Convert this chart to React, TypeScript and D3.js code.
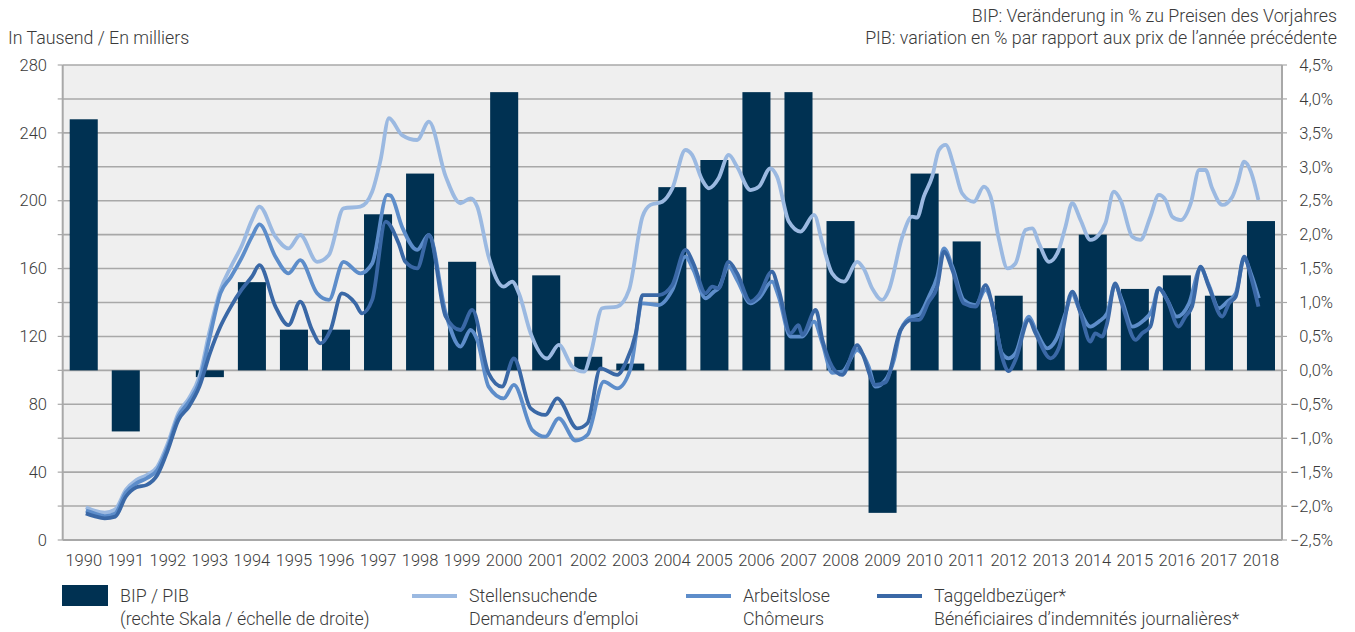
import React from "react";
import * as d3 from "d3";

// GDP change in % (right axis)
const years = d3.range(1990, 2019);
const gdp = [
  3.7, -0.9, 0.0, -0.1, 1.3, 0.6, 0.6, 2.3, 2.9, 1.6, 4.1, 1.4, 0.2, 0.1, 2.7,
  3.1, 4.1, 4.1, 2.2, -2.1, 2.9, 1.9, 1.1, 1.8, 2.0, 1.2, 1.4, 1.1, 2.2,
];

// [year, thousands]
const stellensuchende: [number, number][] = [
  [1990.05, 19.3], [1990.25, 17.3], [1990.5, 16.1], [1990.75, 18.1], [1991.0, 29.5], [1991.25, 35.4],
  [1991.5, 38.3], [1991.75, 43.2], [1992.0, 57], [1992.25, 74.7], [1992.5, 83.5], [1992.75, 96.3],
  [1993.0, 123.8], [1993.25, 147.4], [1993.5, 161], [1993.75, 173], [1994.0, 188.6], [1994.18, 196.5],
  [1994.56, 178.8], [1994.87, 171.9], [1995.15, 179.8], [1995.55, 164], [1995.83, 168], [1996.18, 195.5],
  [1996.58, 196.5], [1996.86, 205.3], [1997.06, 224], [1997.26, 248.6], [1997.57, 238.7], [1997.93, 235.8],
  [1998.21, 246.6], [1998.61, 214.2], [1998.96, 198.5], [1999.2, 201.4], [1999.36, 196.5], [1999.63, 167],
  [1999.99, 149.3], [2000.19, 152.3], [2000.35, 145.4], [2000.63, 121.8], [2001.02, 107], [2001.3, 115],
  [2001.62, 102.2], [2001.9, 99.2], [2002.06, 110], [2002.33, 136.6], [2002.69, 137.6], [2002.97, 147.4],
  [2003.29, 190.6], [2003.48, 197.5], [2003.76, 199.4], [2004.0, 207.3], [2004.31, 229.9], [2004.47, 227],
  [2004.71, 212.2], [2004.87, 207.3], [2005.1, 213.2], [2005.34, 227], [2005.54, 220], [2005.86, 206.3],
  [2006.06, 208.3], [2006.33, 219.1], [2006.49, 214.2], [2006.77, 187.7], [2007.05, 181.8], [2007.37, 191.6],
  [2007.57, 174.9], [2007.8, 157.2], [2008.08, 152.3], [2008.4, 164], [2008.55, 160], [2008.76, 148],
  [2008.99, 141.5], [2009.15, 147.4], [2009.47, 178.8], [2009.7, 190.6], [2009.82, 190], [2009.98, 202.4],
  [2010.18, 214.2], [2010.34, 229.9], [2010.5, 232.9], [2010.7, 220.1], [2010.89, 204.4], [2011.17, 199.4],
  [2011.41, 208.3], [2011.57, 202.4], [2011.77, 176.9], [2011.97, 160.1], [2012.16, 163], [2012.4, 182.7],
  [2012.56, 183.7], [2012.72, 174.9], [2012.96, 164], [2013.19, 171], [2013.35, 184.7], [2013.51, 198.5],
  [2013.71, 188.6], [2013.94, 176.9], [2014.14, 179.8], [2014.3, 186.7], [2014.5, 205.3], [2014.66, 200.4],
  [2014.94, 178.8], [2015.13, 176.9], [2015.37, 190.6], [2015.57, 203.4], [2015.73, 200.4], [2015.89, 190.6],
  [2016.09, 188.6], [2016.33, 198.5], [2016.53, 218.1], [2016.68, 218.1], [2016.84, 207.3], [2017.08, 197.5],
  [2017.32, 202.4], [2017.44, 210.3], [2017.6, 223], [2017.76, 217.1], [2017.94, 200.4],
];

const arbeitslose: [number, number][] = [
  [1990.05, 17.3], [1990.25, 15.7], [1990.5, 14.1], [1990.75, 15.7], [1991.0, 27.9], [1991.25, 33.4],
  [1991.5, 36.4], [1991.75, 41.3], [1992.0, 55], [1992.25, 72.7], [1992.5, 81.5], [1992.75, 93.3],
  [1993.0, 119.9], [1993.25, 145.4], [1993.5, 155], [1993.75, 166], [1994.0, 178.8], [1994.18, 186],
  [1994.56, 167], [1994.87, 157.2], [1995.15, 165], [1995.55, 145.4], [1995.83, 141.5], [1996.18, 164],
  [1996.58, 157.2], [1996.86, 163], [1997.22, 203.4], [1997.3, 203], [1997.57, 184.7], [1997.93, 171],
  [1998.21, 179.8], [1998.61, 133.6], [1998.96, 114], [1999.2, 123.8], [1999.36, 117.9], [1999.63, 90.4],
  [1999.99, 83.5], [2000.23, 91.4], [2000.67, 64.8], [2000.98, 60.9], [2001.3, 71.7], [2001.7, 58.6],
  [2001.98, 61.9], [2002.37, 93.3], [2002.69, 89.4], [2003.0, 100.6], [2003.29, 139.5], [2003.68, 138.5],
  [2004.0, 147.4], [2004.31, 167], [2004.5, 159.2], [2004.79, 142.5], [2004.99, 146.4], [2005.1, 148.4],
  [2005.34, 161.1], [2005.54, 153.3], [2005.86, 139.5], [2006.06, 142.5], [2006.37, 152.3], [2006.53, 143.4],
  [2006.81, 119.9], [2007.09, 119.9], [2007.37, 128.7], [2007.57, 115.9], [2007.8, 98.6], [2008.04, 99.2],
  [2008.4, 112], [2008.51, 110], [2008.67, 102.2], [2008.83, 90.4], [2009.07, 94.3], [2009.27, 106.1],
  [2009.43, 123.8], [2009.7, 131.7], [2009.86, 132.6], [2010.1, 143.4], [2010.3, 155.2], [2010.46, 171.9],
  [2010.66, 161.1], [2010.93, 141.5], [2011.21, 138.5], [2011.45, 147.4], [2011.6, 139.5], [2011.84, 110],
  [2012.0, 107.1], [2012.16, 110], [2012.48, 131.7], [2012.64, 123.8], [2012.92, 113], [2013.12, 117.9],
  [2013.35, 133.6], [2013.51, 145], [2013.67, 136.6], [2013.94, 125.8], [2014.14, 128.7], [2014.34, 133.6],
  [2014.53, 150.3], [2014.69, 141.5], [2014.94, 125.8], [2015.17, 128.7], [2015.41, 135.6], [2015.57, 148.4],
  [2015.77, 141.5], [2016.0, 131.7], [2016.29, 139.5], [2016.56, 160.1], [2016.76, 150.3], [2017.0, 136.6],
  [2017.2, 140.5], [2017.4, 145.4], [2017.6, 166], [2017.76, 157.2], [2017.95, 142.5],
];

const taggeldbezueger: [number, number][] = [
  [1990.05, 15.7], [1990.25, 14.1], [1990.5, 12.8], [1990.75, 13.8], [1991.0, 25.5], [1991.25, 31],
  [1991.5, 32.5], [1991.75, 38.3], [1992.0, 53], [1992.25, 70.7], [1992.5, 78.6], [1992.75, 90.4],
  [1993.0, 110], [1993.25, 125.8], [1993.5, 137.6], [1993.75, 147.4], [1994.0, 155.2], [1994.18, 162],
  [1994.56, 137.6], [1994.87, 126.7], [1995.15, 140.5], [1995.43, 123.8], [1995.63, 115.9], [1995.87, 123.8],
  [1996.14, 145.4], [1996.46, 139.5], [1996.62, 133.6], [1996.86, 141.5], [1997.18, 187.7], [1997.49, 174.9],
  [1997.65, 164], [1997.93, 160.1], [1998.21, 179.8], [1998.61, 131.7], [1998.96, 123.8], [1999.24, 135.6],
  [1999.63, 98.2], [1999.95, 90.4], [2000.23, 107], [2000.63, 77.6], [2000.98, 73.7], [2001.26, 83.5],
  [2001.74, 65.8], [2001.98, 68.8], [2002.29, 101.2], [2002.69, 97.3], [2002.9, 105], [2003.13, 121.8],
  [2003.29, 144.4], [2003.68, 144.4], [2004.0, 150.3], [2004.31, 171], [2004.5, 163], [2004.79, 145.4],
  [2004.95, 149.3], [2005.1, 148.4], [2005.34, 164], [2005.54, 157.2], [2005.86, 140.5], [2006.06, 144.4],
  [2006.37, 158.2], [2006.53, 147.4], [2006.81, 121.8], [2007.0, 126.7], [2007.09, 120.9], [2007.41, 135.6],
  [2007.57, 117.9], [2007.8, 102.2], [2008.04, 97.3], [2008.4, 114.9], [2008.51, 110.5], [2008.83, 91.4],
  [2009.07, 93], [2009.43, 123.8], [2009.7, 129.7], [2009.86, 129.7], [2010.1, 140.5], [2010.3, 149.3],
  [2010.46, 170], [2010.66, 159.2], [2010.93, 139.5], [2011.21, 137.6], [2011.45, 150.3], [2011.6, 139.5],
  [2011.84, 108.1], [2012.0, 99.5], [2012.16, 106.1], [2012.48, 129.7], [2012.64, 121.8], [2013.0, 107.1],
  [2013.19, 113], [2013.51, 146.4], [2013.71, 133.6], [2013.94, 117], [2014.06, 121.8], [2014.22, 119.9],
  [2014.34, 127.7], [2014.53, 151.3], [2014.69, 139.5], [2015.02, 118], [2015.17, 121.8], [2015.37, 125.8],
  [2015.57, 148.4], [2015.77, 141.5], [2016.04, 125.8], [2016.2, 131.7], [2016.36, 137.6], [2016.56, 161.1],
  [2016.76, 149.3], [2017.08, 131.7], [2017.24, 139.5], [2017.4, 143.4], [2017.6, 167], [2017.76, 155.2],
  [2017.94, 137.6],
];

const leftTicks = [0, 40, 80, 120, 160, 200, 240, 280];
const gridTicks = d3.range(0, 281, 20);
const rightTicks = d3.range(-2.5, 4.51, 0.5);

const W = 1355;
const H = 632;
const left = 62.7;
const right = 1282;
const top = 65;
const bottom = 540;

const textColor = "#3a3a3a";
const gridColor = "#a8a8a8";
const barColor = "#003152";
const colLight = "#9bb9e1";
const colMid = "#5d8dca";
const colDark = "#3a68a6";

const tickSize = 16.5;
const labelSize = 17.8;

const fmtPct = (v: number) =>
  (v < -0.001 ? "\u2212" : "") + Math.abs(v).toFixed(1).replace(".", ",") + "%";

export default function App() {
  const x = d3
    .scaleBand<number>()
    .domain(years)
    .range([left, right])
    .paddingInner(0.333)
    .paddingOuter(0.1667);
  const yL = d3.scaleLinear().domain([0, 280]).range([bottom, top]);
  const yR = d3.scaleLinear().domain([-2.5, 4.5]).range([bottom, top]);

  // continuous time scale aligned with band centres
  const xt = d3
    .scaleLinear()
    .domain([1990, 2018])
    .range([x(1990)! + x.bandwidth() / 2, x(2018)! + x.bandwidth() / 2]);

  const line = d3
    .line<[number, number]>()
    .x((d) => xt(d[0]))
    .y((d) => yL(d[1]))
    .curve(d3.curveMonotoneX);

  const font = { fontFamily: "Roboto, 'Noto Sans', sans-serif", fontWeight: 300 };

  const legendLines = [
    { x: 412, color: colLight, l1: "Stellensuchende", l2: "Demandeurs d\u2019emploi" },
    { x: 686, color: colMid, l1: "Arbeitslose", l2: "Ch\u00f4meurs" },
    { x: 877, color: colDark, l1: "Taggeldbez\u00fcger*", l2: "B\u00e9n\u00e9ficiaires d\u2019indemnit\u00e9s journali\u00e8res*" },
  ];

  return (
    <svg
      width={W}
      height={H}
      style={{ position: "absolute", left: 0, top: 0, background: "#fff" }}
      {...font}
    >
      {/* plot background */}
      <rect x={left} y={top} width={right - left} height={bottom - top} fill="#efefef" />

      {/* grid */}
      {gridTicks.map((t) => (
        <g key={t}>
          <line x1={left} x2={right} y1={yL(t)} y2={yL(t)} stroke={gridColor} strokeWidth={1.6} />
          <line x1={left - 5} x2={left} y1={yL(t)} y2={yL(t)} stroke={gridColor} strokeWidth={1.2} />
          <line x1={right} x2={right + 5} y1={yL(t)} y2={yL(t)} stroke={gridColor} strokeWidth={1.2} />
        </g>
      ))}
      <line x1={left} x2={left} y1={top} y2={bottom} stroke={gridColor} strokeWidth={2} />
      <line x1={right} x2={right} y1={top} y2={bottom} stroke={gridColor} strokeWidth={2} />
      <line x1={left} x2={right} y1={bottom} y2={bottom} stroke={gridColor} strokeWidth={2} />

      {/* bars */}
      {years.map((yr, i) => (
        <rect
          key={yr}
          x={x(yr)}
          width={x.bandwidth()}
          y={Math.min(yR(0), yR(gdp[i]))}
          height={Math.abs(yR(gdp[i]) - yR(0))}
          fill={barColor}
        />
      ))}

      {/* lines */}
      <path d={line(stellensuchende)!} fill="none" stroke={colLight} strokeWidth={3.8} strokeLinejoin="round" />
      <path d={line(arbeitslose)!} fill="none" stroke={colMid} strokeWidth={3.8} strokeLinejoin="round" />
      <path d={line(taggeldbezueger)!} fill="none" stroke={colDark} strokeWidth={3.8} strokeLinejoin="round" />

      {/* left axis labels */}
      {leftTicks.map((t) => (
        <text key={t} x={47} y={yL(t)} dy="0.35em" textAnchor="end" fontSize={tickSize} fill={textColor}>
          {t}
        </text>
      ))}

      {/* right axis labels */}
      {rightTicks.map((t) => (
        <text key={t} x={1333} y={yR(t)} dy="0.35em" textAnchor="end" fontSize={tickSize} fill={textColor}>
          {fmtPct(t)}
        </text>
      ))}

      {/* x labels */}
      {years.map((yr) => (
        <text
          key={yr}
          x={x(yr)! + x.bandwidth() / 2}
          y={560}
          dy="0.35em"
          textAnchor="middle"
          fontSize={tickSize}
          fill={textColor}
        >
          {yr}
        </text>
      ))}

      {/* titles */}
      <text x={8} y={44} fontSize={labelSize} fill={textColor}>
        In Tausend / En milliers
      </text>
      <text x={1337} y={22} textAnchor="end" fontSize={labelSize} fill={textColor}>
        BIP: Ver&auml;nderung in % zu Preisen des Vorjahres
      </text>
      <text x={1337} y={44} textAnchor="end" fontSize={labelSize} fill={textColor}>
        PIB: variation en % par rapport aux prix de l&rsquo;ann&eacute;e pr&eacute;c&eacute;dente
      </text>

      {/* legend */}
      <rect x={62} y={585} width={46} height={21} fill={barColor} />
      <text x={120} y={602} fontSize={labelSize} fill={textColor}>
        BIP / PIB
      </text>
      <text x={120} y={625} fontSize={labelSize} fill={textColor}>
        (rechte Skala / &eacute;chelle de droite)
      </text>
      {legendLines.map((d) => (
        <g key={d.l1}>
          <line x1={d.x} x2={d.x + 45} y1={596} y2={596} stroke={d.color} strokeWidth={4} />
          <text x={d.x + 57} y={602} fontSize={labelSize} fill={textColor}>
            {d.l1}
          </text>
          <text x={d.x + 57} y={625} fontSize={labelSize} fill={textColor}>
            {d.l2}
          </text>
        </g>
      ))}
    </svg>
  );
}
